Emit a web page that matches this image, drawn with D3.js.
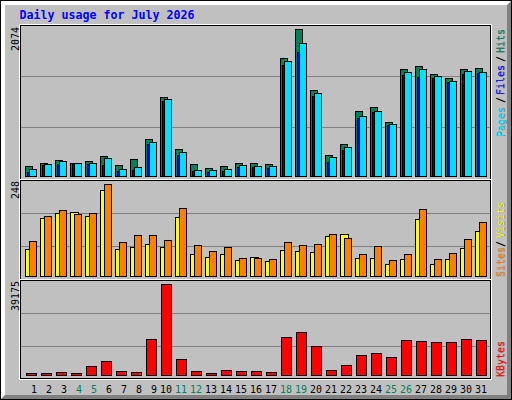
<!DOCTYPE html>
<html><head><meta charset="utf-8">
<script src="https://cdnjs.cloudflare.com/ajax/libs/d3/7.8.5/d3.min.js"></script>
<style>html,body{margin:0;padding:0;background:#fff}svg{display:block}text{font-family:"DejaVu Sans Mono",monospace}</style>
</head><body><svg id="c" width="512" height="400"></svg>
<script>
const days=[1,2,3,4,5,6,7,8,9,10,11,12,13,14,15,16,17,18,19,20,21,22,23,24,25,26,27,28,29,30,31];
const weekendDays=[4,5,11,12,18,19,25,26];
const hits=[146,188,230,188,216,287,160,245,527,1119,386,174,118,146,188,188,174,1670,2074,1218,301,456,922,978,767,1514,1557,1444,1387,1514,1528];
const files=[61,160,174,174,174,160,75,89,456,1063,301,75,61,75,132,132,118,1571,1754,1133,202,372,823,908,724,1430,1401,1387,1331,1444,1458];
const pages=[103,174,216,188,188,259,103,132,484,1091,343,89,89,103,160,146,146,1627,1881,1176,273,414,851,922,738,1472,1514,1416,1345,1486,1472];
const visits=[74,157,171,173,163,233,74,79,87,79,160,60,52,60,44,52,41,71,68,66,109,114,49,49,33,47,155,33,47,76,122];
const sites=[95,163,179,168,171,248,93,111,111,98,184,84,68,79,49,49,47,93,84,87,114,103,60,82,44,58,180,47,63,101,146];
const kbytes=[1000,1000,1430,1000,4003,6148,1859,1430,15584,39175,7005,1859,1000,2288,1859,1859,1430,16442,18586,12581,2288,4432,8721,9579,7863,15155,14726,14297,14297,15584,15155];
const title="Daily usage for July 2026";
const maxLabels=["2074","248","39175"];

const C={grey:"#c0c0c0",dk:"#808080",hits:"#00805c",files:"#0000ff",pages:"#00e0ff",visits:"#ffff00",sites:"#ff8000",kb:"#ff0000"};
const svg=d3.select("#c");
const px=(x,y,w,h,f)=>svg.append("rect").attr("x",x).attr("y",y).attr("width",w).attr("height",h).attr("fill",f).attr("shape-rendering","crispEdges");

px(0,0,512,400,"#000");
px(1,1,510,398,"#fff");
svg.append("polygon").attr("points","511,1 511,399 1,399 5,395 507,395 507,5").attr("fill",C.dk);
px(5,5,502,390,C.grey);

// frames
px(20,24,472,1,"#fff");px(20,25,471,1,"#000");
px(19,24,1,356,"#fff");px(20,25,1,354,"#000");
px(490,25,1,354,"#000");px(491,24,1,356,"#fff");
px(20,179,471,1,"#fff");px(21,180,470,1,"#000");
px(20,279,471,1,"#fff");px(21,280,470,1,"#000");
px(20,378,471,1,"#000");px(19,379,473,1,"#fff");

const x=d3.scaleLinear().domain([1,31]).range([25,475]);
const yTop=d3.scaleLinear().domain([0,2074]).range([176,29]);
const yMid=d3.scaleLinear().domain([0,248]).range([276,184]);
const yBot=d3.scaleLinear().domain([0,39175]).range([375,284]);

// grid
[[76,127],[213,246],[313,346]].flat().forEach(g=>px(21,g,469,1,C.dk));

function bars(vals,y,fill,dx,w){
  const base=y(0);
  svg.append("g").selectAll("rect").data(vals).join("rect")
    .attr("x",(d,i)=>x(days[i])+dx+.5)
    .attr("y",d=>Math.round(y(d))+.5)
    .attr("width",w)
    .attr("height",d=>base-Math.round(y(d)))
    .attr("fill",fill).attr("stroke","#000").attr("stroke-width",1)
    .attr("shape-rendering","crispEdges");
}
bars(hits,yTop,C.hits,0,7);
bars(files,yTop,C.files,2,7);
bars(pages,yTop,C.pages,4,7);
bars(visits,yMid,C.visits,0,8);
bars(sites,yMid,C.sites,4,7);
bars(kbytes,yBot,C.kb,1,10);

// title
svg.append("text").text(title).attr("x",19.5).attr("y",19)
  .attr("font-size",12.3).attr("font-weight","bold").attr("fill","#0000ff")
  .attr("textLength",175).attr("lengthAdjust","spacingAndGlyphs");

// day labels
svg.append("g").selectAll("text").data(days).join("text")
  .text(d=>d)
  .attr("x",d=>x(d)+(d<10?6:0)).attr("y",393)
  .attr("font-size",11).attr("textLength",d=>String(d).length*6).attr("lengthAdjust","spacingAndGlyphs")
  .attr("fill",d=>weekendDays.includes(d)?C.hits:"#000");

function up(t,xx,yy,fill,shadow){
  const put=(X,f)=>svg.append("text").text(t).attr("transform",`translate(${X},${yy}) rotate(-90)`)
    .attr("font-size",11).attr("textLength",t.length*6).attr("lengthAdjust","spacingAndGlyphs").attr("fill",f);
  if(shadow)put(xx+1,C.dk);
  put(xx,fill);
}
up(maxLabels[0],19,51,"#000");
up(maxLabels[1],19,199,"#000");
up(maxLabels[2],19,311,"#000");
[["Pages",137,C.pages],["/",103,"#000"],["Files",95,C.files],["/",62,"#000"],["Hits",53,C.hits],
 ["Sites",277,C.sites],["/",247,"#000"],["Visits",238,C.visits],["KBytes",377,C.kb]]
 .forEach(([t,yy,f])=>up(t,504,yy,f,true));
</script></body></html>
